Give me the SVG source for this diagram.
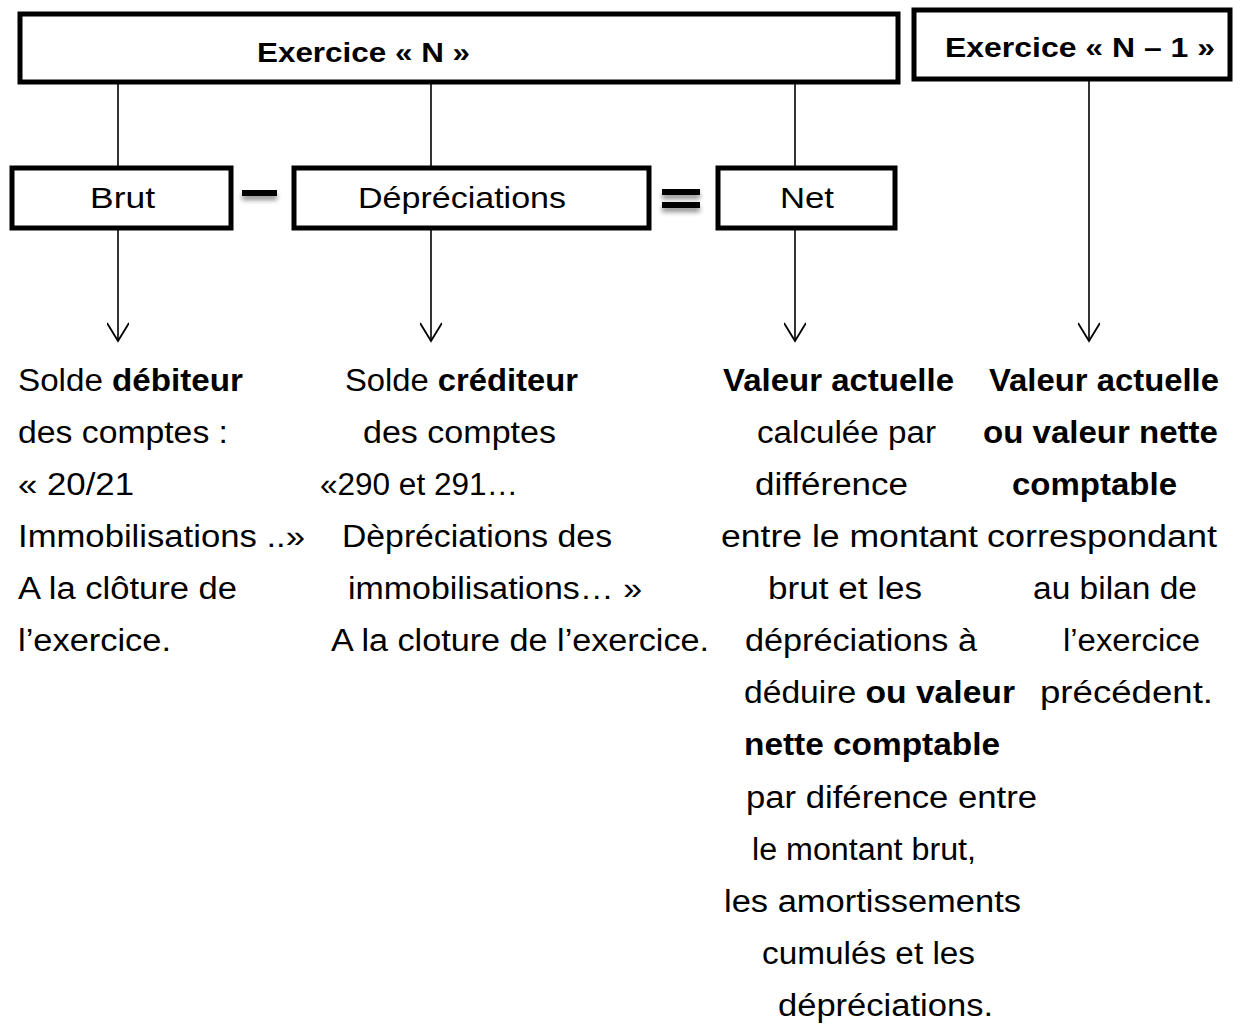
<svg xmlns="http://www.w3.org/2000/svg" width="1244" height="1025" viewBox="0 0 1244 1025">
  <style>
    .box { fill: #ffffff; stroke: #000000; stroke-width: 5; }
    .ttl { font-family: "Liberation Sans", Arial, sans-serif; font-size: 28px; font-weight: bold; fill: #000; }
    .lbl { font-family: "Liberation Sans", Arial, sans-serif; font-size: 29px; fill: #000; }
    .t { font-family: "Liberation Sans", Arial, sans-serif; font-size: 31px; fill: #000; }
    .b { font-weight: bold; }
    .ln { stroke: #000; stroke-width: 1.6; fill: none; }
    .op { fill: #000; filter: url(#sh); }
  </style>
  <defs>
    <marker id="arr" markerWidth="26" markerHeight="22" refX="20" refY="11" orient="auto" markerUnits="userSpaceOnUse">
      <path d="M2,0 L20,11 L2,22" fill="none" stroke="#000" stroke-width="1.8"/>
    </marker>
    <filter id="sh" x="-30%" y="-100%" width="160%" height="400%">
      <feGaussianBlur in="SourceAlpha" stdDeviation="2.5"/>
      <feOffset dx="0" dy="4" result="b"/>
      <feComponentTransfer><feFuncA type="linear" slope="0.45"/></feComponentTransfer>
      <feMerge><feMergeNode/><feMergeNode in="SourceGraphic"/></feMerge>
    </filter>
  </defs>
  <rect width="1244" height="1025" fill="#ffffff"/>

  <g id="connectors">
    <line class="ln" x1="118" y1="82" x2="118" y2="168"/>
    <line class="ln" x1="431" y1="82" x2="431" y2="168"/>
    <line class="ln" x1="795" y1="82" x2="795" y2="168"/>
    <line class="ln" x1="118" y1="228" x2="118" y2="341" marker-end="url(#arr)"/>
    <line class="ln" x1="431" y1="228" x2="431" y2="341" marker-end="url(#arr)"/>
    <line class="ln" x1="795" y1="228" x2="795" y2="341" marker-end="url(#arr)"/>
    <line class="ln" x1="1089" y1="79" x2="1089" y2="341" marker-end="url(#arr)"/>
  </g>

  <g id="exercice-n">
    <rect class="box" x="20" y="14" width="878" height="68"/>
    <text class="ttl" x="257" y="62" textLength="213" lengthAdjust="spacingAndGlyphs">Exercice « N »</text>
  </g>
  <g id="exercice-n-1">
    <rect class="box" x="914" y="10" width="316" height="69"/>
    <text class="ttl" x="945" y="57" textLength="270" lengthAdjust="spacingAndGlyphs">Exercice « N – 1 »</text>
  </g>
  <g id="brut">
    <rect class="box" x="12" y="168" width="219" height="60"/>
    <text class="lbl" x="90" y="208" textLength="65" lengthAdjust="spacingAndGlyphs">Brut</text>
  </g>
  <g id="minus">
    <rect class="op" x="242" y="190" width="35" height="6"/>
  </g>
  <g id="depreciations">
    <rect class="box" x="294" y="168" width="355" height="60"/>
    <text class="lbl" x="358" y="208" textLength="208" lengthAdjust="spacingAndGlyphs">Dépréciations</text>
  </g>
  <g id="equals">
    <rect class="op" x="662" y="189" width="38" height="6"/>
    <rect class="op" x="662" y="202" width="38" height="6"/>
  </g>
  <g id="net">
    <rect class="box" x="718" y="168" width="177" height="60"/>
    <text class="lbl" x="780" y="208" textLength="54" lengthAdjust="spacingAndGlyphs">Net</text>
  </g>

  <g id="text-brut">
    <text class="t" x="18" y="391" textLength="225" lengthAdjust="spacingAndGlyphs">Solde <tspan class="b">débiteur</tspan></text>
    <text class="t" x="18" y="443" textLength="210" lengthAdjust="spacingAndGlyphs">des comptes :</text>
    <text class="t" x="18" y="495" textLength="116" lengthAdjust="spacingAndGlyphs">« 20/21</text>
    <text class="t" x="18" y="547" textLength="287" lengthAdjust="spacingAndGlyphs">Immobilisations ..»</text>
    <text class="t" x="18" y="599" textLength="219" lengthAdjust="spacingAndGlyphs">A la clôture de</text>
    <text class="t" x="18" y="651" textLength="153" lengthAdjust="spacingAndGlyphs">l’exercice.</text>
  </g>

  <g id="text-depreciations">
    <text class="t" x="345" y="391" textLength="233" lengthAdjust="spacingAndGlyphs">Solde <tspan class="b">créditeur</tspan></text>
    <text class="t" x="363" y="443" textLength="193" lengthAdjust="spacingAndGlyphs">des comptes</text>
    <text class="t" x="320" y="495" textLength="198" lengthAdjust="spacingAndGlyphs">«290 et 291…</text>
    <text class="t" x="342" y="547" textLength="270" lengthAdjust="spacingAndGlyphs">Dèpréciations des</text>
    <text class="t" x="348" y="599" textLength="294" lengthAdjust="spacingAndGlyphs">immobilisations… »</text>
    <text class="t" x="331" y="651" textLength="378" lengthAdjust="spacingAndGlyphs">A la cloture de l’exercice.</text>
  </g>

  <g id="text-net">
    <text class="t b" x="723" y="391" textLength="231" lengthAdjust="spacingAndGlyphs">Valeur actuelle</text>
    <text class="t" x="757" y="443" textLength="179" lengthAdjust="spacingAndGlyphs">calculée par</text>
    <text class="t" x="755" y="495" textLength="153" lengthAdjust="spacingAndGlyphs">différence</text>
    <text class="t" x="721" y="547" textLength="257" lengthAdjust="spacingAndGlyphs">entre le montant</text>
    <text class="t" x="768" y="599" textLength="154" lengthAdjust="spacingAndGlyphs">brut et les</text>
    <text class="t" x="745" y="651" textLength="232" lengthAdjust="spacingAndGlyphs">dépréciations à</text>
    <text class="t" x="744" y="703" textLength="271" lengthAdjust="spacingAndGlyphs">déduire <tspan class="b">ou valeur</tspan></text>
    <text class="t b" x="744" y="755" textLength="256" lengthAdjust="spacingAndGlyphs">nette comptable</text>
    <text class="t" x="746" y="808" textLength="291" lengthAdjust="spacingAndGlyphs">par diférence entre</text>
    <text class="t" x="752" y="860" textLength="224" lengthAdjust="spacingAndGlyphs">le montant brut,</text>
    <text class="t" x="724" y="912" textLength="297" lengthAdjust="spacingAndGlyphs">les amortissements</text>
    <text class="t" x="762" y="964" textLength="213" lengthAdjust="spacingAndGlyphs">cumulés et les</text>
    <text class="t" x="778" y="1016" textLength="215" lengthAdjust="spacingAndGlyphs">dépréciations.</text>
  </g>

  <g id="text-n-1">
    <text class="t b" x="989" y="391" textLength="230" lengthAdjust="spacingAndGlyphs">Valeur actuelle</text>
    <text class="t b" x="983" y="443" textLength="235" lengthAdjust="spacingAndGlyphs">ou valeur nette</text>
    <text class="t b" x="1012" y="495" textLength="165" lengthAdjust="spacingAndGlyphs">comptable</text>
    <text class="t" x="987" y="547" textLength="230" lengthAdjust="spacingAndGlyphs">correspondant</text>
    <text class="t" x="1033" y="599" textLength="164" lengthAdjust="spacingAndGlyphs">au bilan de</text>
    <text class="t" x="1063" y="651" textLength="137" lengthAdjust="spacingAndGlyphs">l’exercice</text>
    <text class="t" x="1040" y="703" textLength="173" lengthAdjust="spacingAndGlyphs">précédent.</text>
  </g>
</svg>
